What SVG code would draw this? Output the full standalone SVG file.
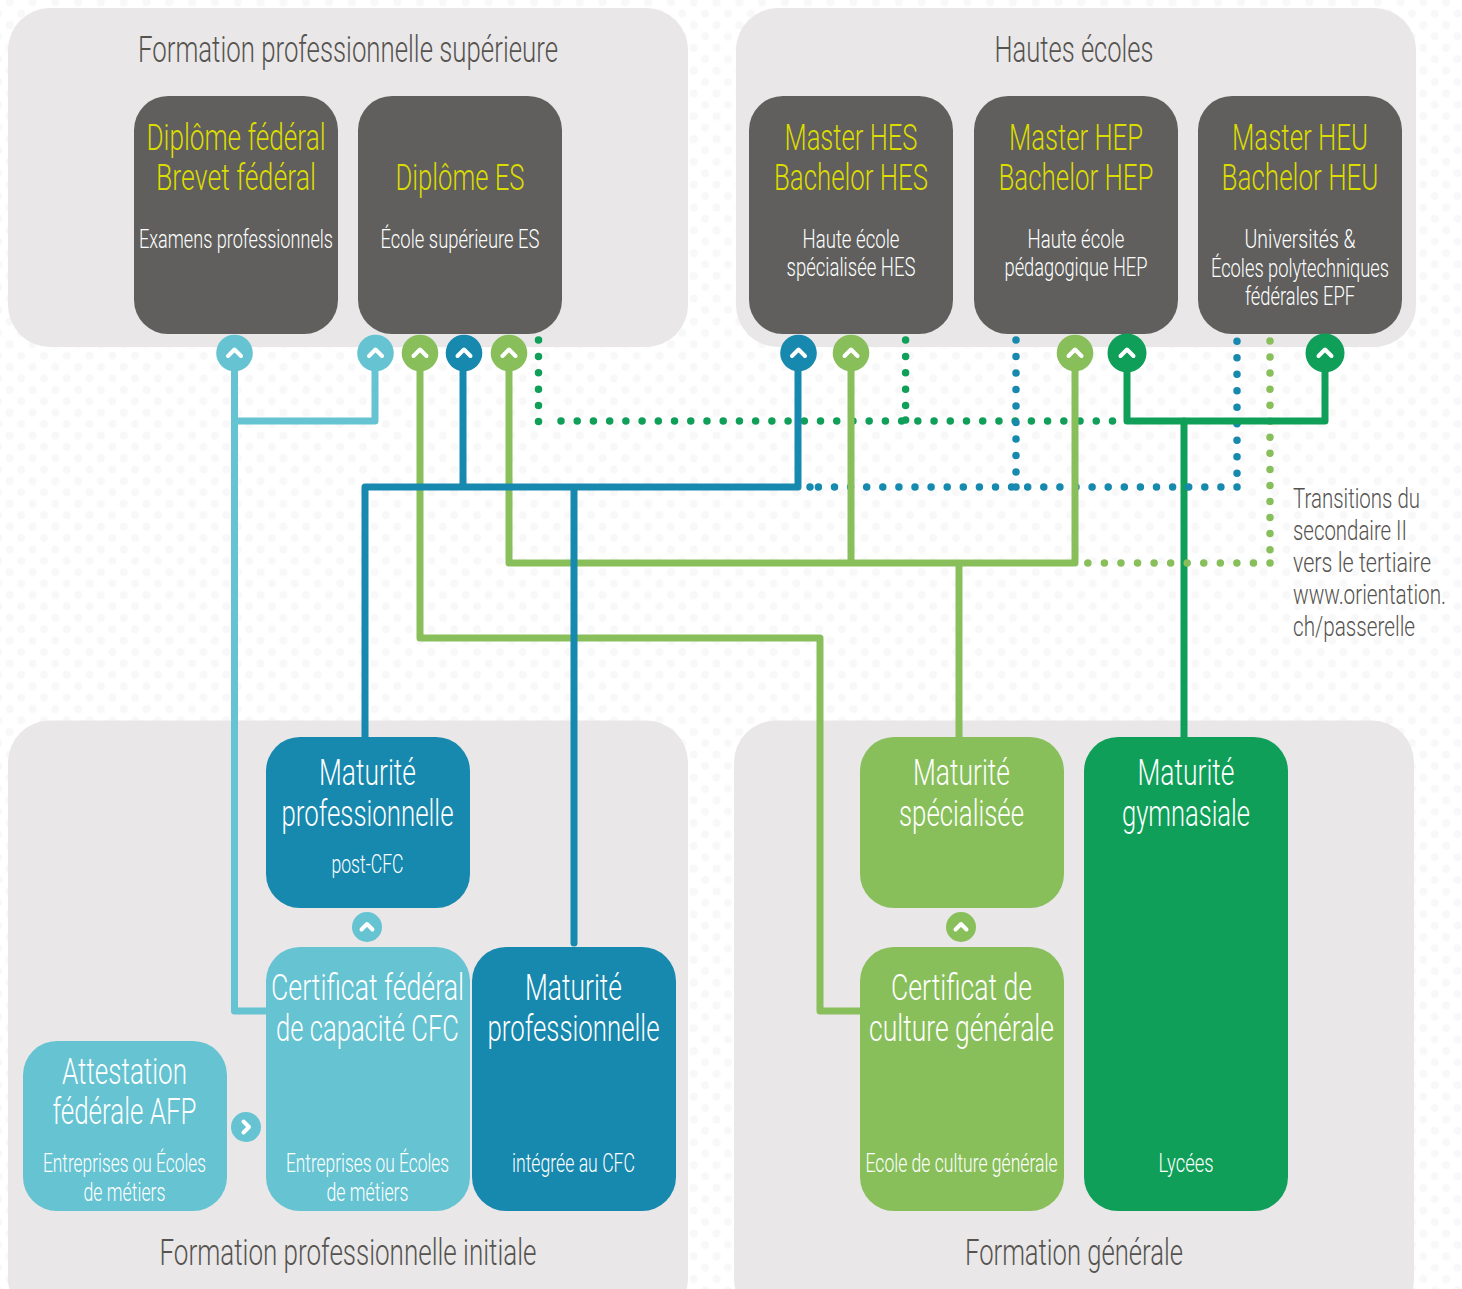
<svg xmlns="http://www.w3.org/2000/svg" width="1462" height="1289" viewBox="0 0 1462 1289">
<style>
text{font-family:"Roboto","Liberation Sans",sans-serif;font-weight:350;text-anchor:middle}
.pt{font-size:37px;fill:#55534f}
.h{font-size:37px;fill:#fff}
.y{font-size:37px;fill:#dcdc00}
.s{font-size:25.500px;fill:#fff}
.n{font-size:27px;fill:#55534f;text-anchor:start}
.panel{fill:#e9e7e8}
.dark{fill:#605f5d}
.c1{fill:#65c3d2}.c2{fill:#1788ae}.c3{fill:#88bf5a}.c4{fill:#0f9f59}
.l{fill:none;stroke-width:7;stroke-linejoin:round;stroke-linecap:round}
.d{fill:none;stroke-width:7.5;stroke-linecap:round;stroke-dasharray:0 16.2}
.k1{stroke:#65c3d2}.k2{stroke:#1788ae}.k3{stroke:#88bf5a}.k4{stroke:#0f9f59}
.ch{fill:none;stroke:#fff;stroke-width:4;stroke-linecap:round;stroke-linejoin:round}
</style>
<defs>
<pattern id="bg" width="22.800" height="22.800" patternUnits="userSpaceOnUse" patternTransform="translate(5.100 7.600)"><circle cx="16" cy="6" r="4" fill="#f8f8f8"/><circle cx="4.600" cy="17.500" r="4" fill="#f8f8f8"/></pattern>
<path id="up" class="ch" d="M-6.500 3 L0 -3.500 L6.500 3"/>
<path id="ups" class="ch" d="M-5.500 2.500 L0 -3 L5.500 2.500"/>
</defs>
<rect width="1462" height="1289" fill="#fff"/>
<rect width="1462" height="1289" fill="url(#bg)"/>
<g id="panels">
<g id="panel-fps"><rect class="panel" x="8" y="8" width="680" height="339" rx="42"/><text class="pt" x="348" y="62" textLength="420" lengthAdjust="spacingAndGlyphs">Formation professionnelle supérieure</text></g>
<g id="panel-he"><rect class="panel" x="736" y="8" width="680" height="339" rx="42"/><text class="pt" x="1074" y="62" textLength="159" lengthAdjust="spacingAndGlyphs">Hautes écoles</text></g>
<g id="panel-fpi"><rect class="panel" x="8" y="720.500" width="680" height="600" rx="42"/><text class="pt" x="348" y="1265" textLength="377" lengthAdjust="spacingAndGlyphs">Formation professionnelle initiale</text></g>
<g id="panel-fg"><rect class="panel" x="734" y="720.500" width="680" height="600" rx="42"/><text class="pt" x="1074" y="1265" textLength="218" lengthAdjust="spacingAndGlyphs">Formation générale</text></g>
</g>
<g id="connectors">
<path class="l k4" d="M1184 421V737"/>
<g class="dots">
<path class="d k4" d="M538.500 340V407M905.600 340V406" style="stroke-dasharray:0 16.400"/>
<path class="d k4" d="M561 421H1113" style="stroke-dasharray:0 16.220"/>
<circle class="c4" cx="538.500" cy="421.500" r="3.750"/><circle class="c4" cx="905.600" cy="420" r="3.750"/>
<path class="d k2" d="M1016 340V474M1237 341.300V474" style="stroke-dasharray:0 16.500"/>
<path class="d k2" d="M1237 487H818" style="stroke-dasharray:0 16.100"/>
<circle class="c2" cx="1016" cy="487" r="3.750"/><circle class="c2" cx="810" cy="487" r="3.750"/>
<path class="d k3" d="M1270 341V551" style="stroke-dasharray:0 16.050"/>
<path class="d k3" d="M1270 563H1087" style="stroke-dasharray:0 16.560"/>
</g>
<path class="l k1" d="M234.500 353V1011H270M234.500 421H375V353"/>
<path class="l k3" d="M420 353V638H820V1011H864"/>
<path class="l k3" d="M509 353V563H1075V353M851 353V563M959 563V737"/>
<path class="l k4" d="M1127 353V421H1325V353"/>
<path class="l k2" d="M365 737V487H798V353M463 353V487M574 487V943"/>
</g>
<g id="node-diplome-federal"><rect class="dark" x="134" y="96" width="204" height="238" rx="34"/><text class="y" x="236" y="150" textLength="179" lengthAdjust="spacingAndGlyphs">Diplôme fédéral</text><text class="y" x="236" y="190" textLength="160" lengthAdjust="spacingAndGlyphs">Brevet fédéral</text><text class="s" x="236" y="248" textLength="194" lengthAdjust="spacingAndGlyphs">Examens professionnels</text></g>
<g id="node-diplome-es"><rect class="dark" x="358" y="96" width="204" height="238" rx="34"/><text class="y" x="460" y="190" textLength="129" lengthAdjust="spacingAndGlyphs">Diplôme ES</text><text class="s" x="460" y="248" textLength="159" lengthAdjust="spacingAndGlyphs">École supérieure ES</text></g>
<g id="node-hes"><rect class="dark" x="749" y="96" width="204" height="238" rx="34"/><text class="y" x="851" y="150" textLength="133" lengthAdjust="spacingAndGlyphs">Master HES</text><text class="y" x="851" y="190" textLength="154" lengthAdjust="spacingAndGlyphs">Bachelor HES</text><text class="s" x="851" y="248" textLength="97" lengthAdjust="spacingAndGlyphs">Haute école</text><text class="s" x="851" y="276" textLength="129" lengthAdjust="spacingAndGlyphs">spécialisée HES</text></g>
<g id="node-hep"><rect class="dark" x="974" y="96" width="204" height="238" rx="34"/><text class="y" x="1076" y="150" textLength="134" lengthAdjust="spacingAndGlyphs">Master HEP</text><text class="y" x="1076" y="190" textLength="155" lengthAdjust="spacingAndGlyphs">Bachelor HEP</text><text class="s" x="1076" y="248" textLength="97" lengthAdjust="spacingAndGlyphs">Haute école</text><text class="s" x="1076" y="276" textLength="143" lengthAdjust="spacingAndGlyphs">pédagogique HEP</text></g>
<g id="node-heu"><rect class="dark" x="1198" y="96" width="204" height="238" rx="34"/><text class="y" x="1300" y="150" textLength="136" lengthAdjust="spacingAndGlyphs">Master HEU</text><text class="y" x="1300" y="190" textLength="157" lengthAdjust="spacingAndGlyphs">Bachelor HEU</text><text class="s" x="1300" y="248" textLength="111" lengthAdjust="spacingAndGlyphs">Universités &amp;</text><text class="s" x="1300" y="277" textLength="178" lengthAdjust="spacingAndGlyphs">Écoles polytechniques</text><text class="s" x="1300" y="305" textLength="110" lengthAdjust="spacingAndGlyphs">fédérales EPF</text></g>
<g id="node-mp-post"><rect class="c2" x="266" y="737" width="204" height="171" rx="34"/><text class="h" x="367.500" y="785" textLength="97" lengthAdjust="spacingAndGlyphs">Maturité</text><text class="h" x="367.500" y="826" textLength="172" lengthAdjust="spacingAndGlyphs">professionnelle</text><text class="s" x="367.500" y="873" textLength="72" lengthAdjust="spacingAndGlyphs">post-CFC</text></g>
<g id="node-cfc"><rect class="c1" x="266" y="947" width="204" height="264" rx="34"/><text class="h" x="367.500" y="1000" textLength="193" lengthAdjust="spacingAndGlyphs">Certificat fédéral</text><text class="h" x="367.500" y="1041" textLength="183" lengthAdjust="spacingAndGlyphs">de capacité CFC</text><text class="s" x="367.500" y="1172" textLength="163" lengthAdjust="spacingAndGlyphs">Entreprises ou Écoles</text><text class="s" x="367.500" y="1201" textLength="82" lengthAdjust="spacingAndGlyphs">de métiers</text></g>
<g id="node-mp-integree"><rect class="c2" x="472" y="947" width="204" height="264" rx="34"/><text class="h" x="573.500" y="1000" textLength="97" lengthAdjust="spacingAndGlyphs">Maturité</text><text class="h" x="573.500" y="1041" textLength="172" lengthAdjust="spacingAndGlyphs">professionnelle</text><text class="s" x="573.500" y="1172" textLength="123" lengthAdjust="spacingAndGlyphs">intégrée au CFC</text></g>
<g id="node-afp"><rect class="c1" x="23" y="1041" width="204" height="170" rx="34"/><text class="h" x="124.500" y="1084" textLength="125" lengthAdjust="spacingAndGlyphs">Attestation</text><text class="h" x="124.500" y="1124" textLength="144" lengthAdjust="spacingAndGlyphs">fédérale AFP</text><text class="s" x="124.500" y="1172" textLength="163" lengthAdjust="spacingAndGlyphs">Entreprises ou Écoles</text><text class="s" x="124.500" y="1201" textLength="82" lengthAdjust="spacingAndGlyphs">de métiers</text></g>
<g id="node-ms"><rect class="c3" x="860" y="737" width="204" height="171" rx="34"/><text class="h" x="961.500" y="785" textLength="97" lengthAdjust="spacingAndGlyphs">Maturité</text><text class="h" x="961.500" y="826" textLength="125" lengthAdjust="spacingAndGlyphs">spécialisée</text></g>
<g id="node-ccg"><rect class="c3" x="860" y="947" width="204" height="264" rx="34"/><text class="h" x="961.500" y="1000" textLength="141" lengthAdjust="spacingAndGlyphs">Certificat de</text><text class="h" x="961.500" y="1041" textLength="185" lengthAdjust="spacingAndGlyphs">culture générale</text><text class="s" x="961.500" y="1172" textLength="192" lengthAdjust="spacingAndGlyphs">Ecole de culture générale</text></g>
<g id="node-mg"><rect class="c4" x="1084" y="737" width="204" height="474" rx="34"/><text class="h" x="1186" y="785" textLength="97" lengthAdjust="spacingAndGlyphs">Maturité</text><text class="h" x="1186" y="826" textLength="128" lengthAdjust="spacingAndGlyphs">gymnasiale</text><text class="s" x="1186" y="1172" textLength="55" lengthAdjust="spacingAndGlyphs">Lycées</text></g>
<g id="badges">
<g transform="translate(234.500 353)"><circle class="c1" r="18.300"/><use href="#up"/></g>
<g transform="translate(375.500 353)"><circle class="c1" r="18.300"/><use href="#up"/></g>
<g transform="translate(420 353)"><circle class="c3" r="18.300"/><use href="#up"/></g>
<g transform="translate(464 353)"><circle class="c2" r="18.300"/><use href="#up"/></g>
<g transform="translate(509 353)"><circle class="c3" r="18.300"/><use href="#up"/></g>
<g transform="translate(798.500 353)"><circle class="c2" r="18.300"/><use href="#up"/></g>
<g transform="translate(851 353)"><circle class="c3" r="18.300"/><use href="#up"/></g>
<g transform="translate(1075 353)"><circle class="c3" r="18.300"/><use href="#up"/></g>
<g transform="translate(1127 353)"><circle class="c4" r="19.500"/><use href="#up"/></g>
<g transform="translate(1325 353)"><circle class="c4" r="19.500"/><use href="#up"/></g>
<g transform="translate(367 927)"><circle class="c1" r="15"/><use href="#ups"/></g>
<g transform="translate(961 927)"><circle class="c3" r="15"/><use href="#ups"/></g>
<g transform="translate(246 1127)"><circle class="c1" r="15"/><use href="#ups" transform="rotate(90)"/></g>
</g>
<g id="note"><text class="n" x="1293" y="508" textLength="127" lengthAdjust="spacingAndGlyphs">Transitions du</text><text class="n" x="1293" y="540" textLength="114" lengthAdjust="spacingAndGlyphs">secondaire II</text><text class="n" x="1293" y="572" textLength="138" lengthAdjust="spacingAndGlyphs">vers le tertiaire</text><text class="n" x="1293" y="604" textLength="153" lengthAdjust="spacingAndGlyphs">www.orientation.</text><text class="n" x="1293" y="636" textLength="122" lengthAdjust="spacingAndGlyphs">ch/passerelle</text></g>
</svg>
